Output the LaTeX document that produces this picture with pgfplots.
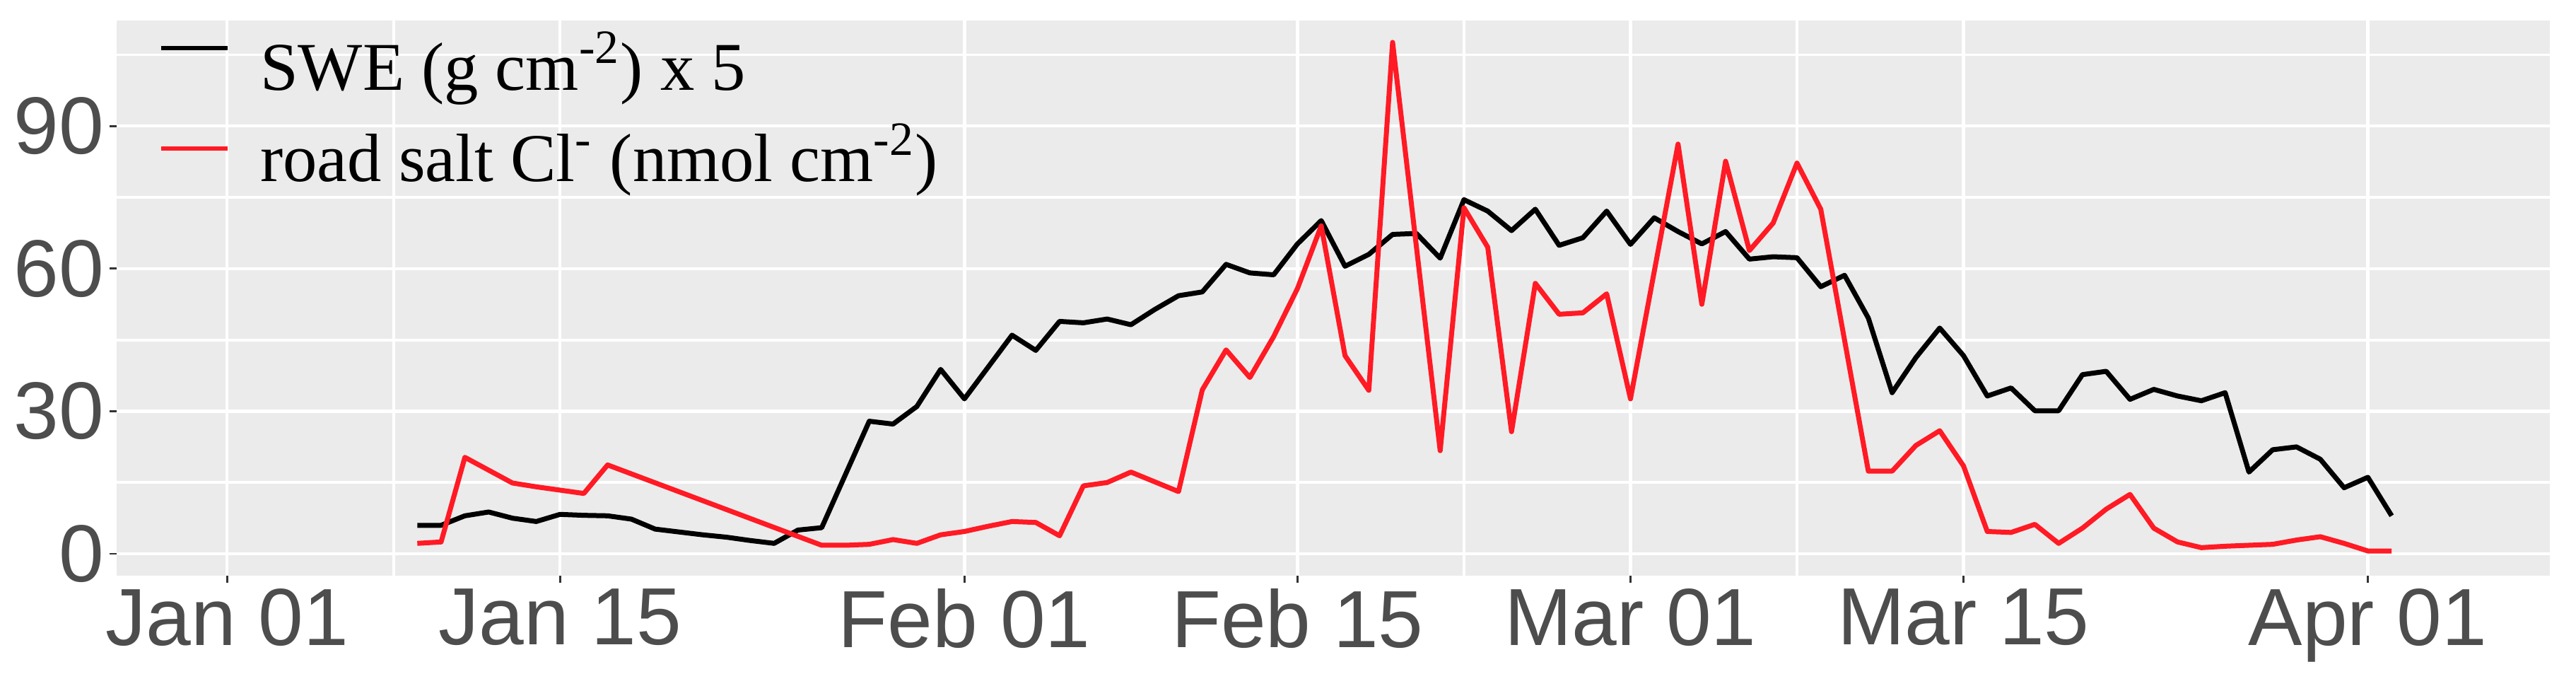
\documentclass[border=0pt]{standalone}
\usepackage{fontspec}
\setmainfont{Liberation Sans}
\newfontfamily\serif{Liberation Serif}
\usepackage{pgfplots}
\pgfplotsset{compat=1.18}
\definecolor{panelbg}{HTML}{EBEBEB}
\definecolor{ticktext}{HTML}{4D4D4D}
\definecolor{tickcol}{HTML}{333333}
\definecolor{saltred}{RGB}{255,26,36}

% day numbers: Jan 01 = 0
\pgfplotstableread{
day swe
8 6.0
9 6.0
10 8.0
11 8.8
12 7.5
13 6.8
14 8.3
15 8.1
16 8.0
17 7.3
18 5.2
19 4.6
20 4.0
21 3.5
22 2.8
23 2.2
24 5.0
25 5.5
27 27.9
28 27.3
29 31.0
30 38.8
31 32.6
33 46.0
34 42.8
35 48.9
36 48.6
37 49.4
38 48.2
39 51.4
40 54.3
41 55.1
42 60.9
43 59.1
44 58.7
45 65.2
46 70.1
47 60.5
48 63.0
49 67.2
50 67.4
51 62.2
52 74.5
53 72.1
54 68.0
55 72.5
56 64.9
57 66.5
58 72.1
59 65.1
60 70.7
61 67.8
62 65.2
63 67.8
64 62.0
65 62.5
66 62.3
67 56.2
68 58.6
69 49.6
70 33.9
71 41.3
72 47.5
73 41.7
74 33.2
75 34.9
76 30.1
77 30.1
78 37.7
79 38.4
80 32.5
81 34.6
82 33.2
83 32.2
84 33.9
85 17.2
86 21.9
87 22.5
88 19.9
89 13.9
90 16.1
91 8.0
}\swe

\pgfplotstableread{
day cl
8 2.2
9 2.5
10 20.3
12 14.9
13 14.1
14 13.4
15 12.7
16 18.7
25 1.8
26 1.8
27 2.0
28 3.0
29 2.2
30 4.0
31 4.7
32 5.8
33 6.8
34 6.6
35 3.8
36 14.3
37 15.0
38 17.2
40 13.1
41 34.5
42 42.9
43 37.1
44 45.7
45 55.8
46 69.0
47 41.7
48 34.4
49 107.6
51 21.7
52 72.8
53 64.5
54 25.7
55 56.9
56 50.4
57 50.7
58 54.7
59 32.6
61 86.2
62 52.5
63 82.6
64 63.8
65 69.6
66 82.2
67 72.5
69 17.4
70 17.4
71 22.8
72 25.9
73 18.5
74 4.7
75 4.5
76 6.2
77 2.2
78 5.4
79 9.4
80 12.5
81 5.4
82 2.5
83 1.3
84 1.6
85 1.8
86 2.0
87 2.9
88 3.6
89 2.2
90 0.6
91 0.6
}\salt

\begin{document}
\begin{tikzpicture}
\useasboundingbox (-33bp,-27.8bp) rectangle (695.8bp,162.8bp);
\begin{axis}[
    scale only axis,
    width=688.4bp, height=157bp,
    xmin=-4.64, xmax=97.65,
    ymin=-4.6, ymax=112.2,
    axis background/.style={fill=panelbg},
    axis line style={draw=none},
    xtick={0,14,31,45,59,73,90},
    xticklabels={Jan 01,Jan 15,Feb 01,Feb 15,Mar 01,Mar 15,Apr 01},
    minor xtick={7,52,66},
    ytick={0,30,60,90},
    minor ytick={15,45,75,105},
    grid=both,
    major grid style={white, line width=0.9bp},
    minor grid style={white, line width=0.75bp},
    tick align=outside,
    major tick length=2bp, minor tick length=0pt,
    xtick pos=bottom, ytick pos=left,
    tick style={tickcol, line width=0.55bp},
    ticklabel style={font=\fontsize{23}{26}\selectfont, text=ticktext},
    /pgf/number format/assume math mode=true,
    xticklabel style={inner sep=1.5bp},
    yticklabel style={inner sep=1.4bp},
    legend cell align=left,
    legend style={at={(rel axis cs:0.0172,1)}, anchor=north west, yshift=-5.5bp,
        draw=none, fill=none, inner sep=0pt, row sep=7.3bp, column sep=8.6bp,
        font=\serif\fontsize{19.4}{23}\selectfont,
        nodes={inner sep=0pt, text height=14bp, text depth=4.5bp}},
]
\addplot[black, line width=1.4bp, line join=round,
    legend image code/.code={\draw[black, line width=1.2bp] (0bp,7.2bp) -- (18.8bp,7.2bp);}]
    table[x=day, y=swe] {\swe};
\addlegendentry{SWE (g cm\textsuperscript{-2}) x 5}
\addplot[saltred, line width=1.4bp, line join=round,
    legend image code/.code={\draw[saltred, line width=1.2bp] (0bp,4.6bp) -- (18.8bp,4.6bp);}]
    table[x=day, y=cl] {\salt};
\addlegendentry{road salt Cl\textsuperscript{-} (nmol cm\textsuperscript{-2})}
\end{axis}
\end{tikzpicture}
\end{document}
